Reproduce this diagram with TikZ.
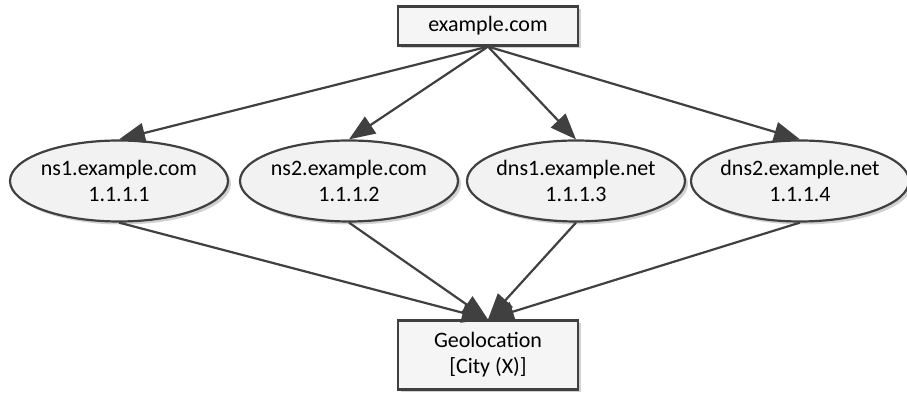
\documentclass[tikz,border=0pt]{standalone}
\usepackage{fontspec}
\setmainfont{Carlito}
\usetikzlibrary{arrows.meta,shapes.geometric,shadows}

\begin{document}
\begin{tikzpicture}[x=0.5pt,y=-0.5pt,font=\fontsize{11}{13}\selectfont,
      shade/.style={drop shadow={shadow xshift=1.5pt,shadow yshift=-1.5pt,fill=black!18,opacity=1}},
      box/.style={draw=black!75,line width=1.1pt,fill=black!4,shade,align=center,minimum width=90pt,minimum height=19.5pt},
      host/.style={ellipse,draw=black!75,line width=1.1pt,fill=black!5,shade,align=center,inner sep=-1.5pt,minimum width=109pt,minimum height=40.5pt},
      link/.style={draw=black!75,line width=1.1pt,-{Triangle[length=13pt,width=10pt]}}]
      \useasboundingbox (0,0) rectangle (907,394);
      % zone and the resolvers
      \node[box] (site) at (488,26) {example.com};
      \node[host] (ns1) at (119,181) {ns1.example.com\\1.1.1.1};
      \node[host] (ns2) at (349,181) {ns2.example.com\\1.1.1.2};
      \node[host] (dns1) at (576,181) {dns1.example.net\\1.1.1.3};
      \node[host] (dns2) at (800,181) {dns2.example.net\\1.1.1.4};
      \node[box,minimum height=34.5pt] (geo) at (488,355) {Geolocation\\{}[City (X)]};
      \foreach \n in {ns1,ns2,dns1,dns2}{
        \draw[link] (site.south) -- (\n.north);
        \draw[link] (\n.south) -- (geo.north);
      }
\end{tikzpicture}
\end{document}
